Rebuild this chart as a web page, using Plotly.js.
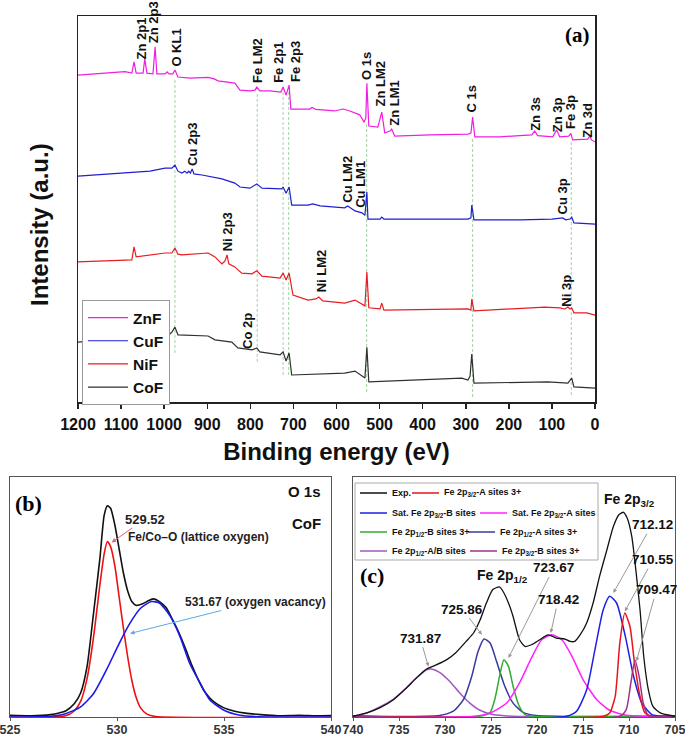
<!DOCTYPE html>
<html>
<head>
<meta charset="utf-8">
<script src="https://cdn.plot.ly/plotly-3.0.1.min.js"></script>
<style>html,body{margin:0;padding:0;background:#fff}#chart{width:685px;height:737px}</style>
</head>
<body>
<div id="chart"></div>
<script>
// ---------- Panel (a): XPS survey spectra ----------
const seriesNames = ['ZnF', 'CuF', 'NiF', 'CoF'];

const znE = [1200,1091,1075,1070,1065,1049,1045,1040,1026,1021,1017,998,993,989,980,975,968,940,898,884,875,836,824,801,789,785,778,755,729,724,717,710,706,685,662,657,648,604,585,569,557,546,536,532,529.5,525,504,495,488,476,472,465,383,295,288,284,279,221,147,140,133,98,89,82,61,56,52,17,12,8,0];
const znI = [84.7,85.6,85.2,88.1,85.2,85.2,88.9,85.2,85.0,92.0,85.0,85.0,85.5,85.0,85.0,86.0,84.2,83.9,84.1,83.7,83.2,82.6,80.8,80.6,80.8,81.6,80.6,80.6,80.3,81.6,79.5,82.1,75.9,75.9,75.9,76.3,75.8,75.4,75.9,75.4,74.9,74.4,72.5,73.6,82.6,71.5,71.2,75.1,69.7,70.2,70.7,68.9,69.2,69.4,69.7,73.8,68.7,68.7,69.2,70.2,69.0,68.7,70.5,68.7,68.9,69.6,67.9,68.1,68.9,67.9,67.4];

const cuE = [1200,1126,1070,1033,998,982,975,968,959,952,947,943,939,935,931,912,866,836,824,801,785,773,727,724,717,710,704,666,655,638,581,574,557,541,534,529.5,527,499,495,490,295,288,286,281,174,100,75,68,58,54,49,0];
const cuI = [58.5,59.1,59.6,59.8,60.6,60.6,61.4,59.8,59.3,59.8,59.3,59.8,59.3,60.4,59.1,58.8,57.8,56.7,55.7,55.4,56.5,55.4,55.2,55.7,54.1,55.7,51.0,51.0,51.3,50.8,50.3,50.8,49.5,49.0,48.4,54.4,47.4,47.4,47.9,47.4,47.4,47.7,51.0,47.2,47.2,47.4,47.7,47.2,47.4,47.9,46.4,46.1];

const niE = [1200,1091,1075,1070,1065,998,982,975,968,959,898,882,871,866,859,854,850,836,820,796,785,773,731,724,717,710,701,666,648,641,632,581,557,539,534,529.5,525,499,495,490,295,288,286,281,117,82,70,63,58,54,49,19,0];
const niI = [36.3,36.8,36.8,40.2,37.6,38.6,38.6,39.9,38.3,38.1,38.6,37.6,36.3,35.8,36.5,38.1,35.8,35.0,33.4,33.2,34.0,32.6,32.1,33.4,31.6,33.4,27.7,26.4,26.7,27.2,26.2,25.6,26.4,25.1,24.9,33.7,24.4,24.1,25.6,23.8,24.1,23.8,26.7,23.6,24.6,24.4,24.1,24.6,24.1,24.4,23.1,23.1,22.5];

const coE = [1200,1079,987,982,975,968,898,882,843,829,796,785,778,731,724,717,710,704,581,557,539,534,529.5,525,309,295,290,286,281,110,63,54,49,0];
const coI = [15.5,16.6,17.6,18.1,19.4,17.4,17.1,16.1,15.5,14.0,13.5,14.0,13.0,12.2,13.0,10.6,12.7,7.0,7.5,8.0,6.5,6.2,14.2,5.2,6.2,5.7,6.7,12.4,4.9,5.2,4.9,6.2,3.9,3.6];

const surveyTicks = [1200,1100,1000,900,800,700,600,500,400,300,200,100,0];

// peak labels (a)
const peakLabels = ['Zn 2p1','Zn 2p3','O KL1','Fe LM2','Fe 2p1','Fe 2p3','O 1s','Zn LM2','Zn LM1','C 1s','Zn 3s','Zn 3p','Fe 3p','Zn 3d','Cu 2p3','Cu LM2','Cu LM1','Cu 3p','Ni 2p3','Ni LM2','Ni 3p','Co 2p'];
const peakLabelE = [1053.8,1026,970.3,784.7,733.6,694,532,497,464.5,286,139.7,86.3,58.5,16.7,933,573.6,543.4,74.7,854.3,636.2,65.4,805.6];
const peakLabelI = [94.2,98.4,91.8,88.6,88.1,88.1,87.0,82.5,77.5,78.6,74.6,74.5,75.1,73.1,66.6,57.8,56.5,53.2,44.2,34.1,28.8,18.4];

// guide lines (a)
const guideE = [975,784,724,711,530,284,55];
const guideTop = [83.9,80.3,81.3,80.3,72.3,68.7,67.4];
const guideBottom = [12.7,10.4,7.0,7.0,2.6,1.3,1.8];

// ---------- Panel (b): O 1s ----------
const oExpE = [525,526.0,526.9,527.3,527.6,528.0,528.3,528.6,528.9,529.2,529.4,529.55,529.7,529.9,530.1,530.3,530.5,530.7,530.9,531.2,531.5,531.7,532.0,532.3,532.6,532.9,533.2,533.5,533.8,534.1,534.5,535.0,535.5,536.0,536.7,537.5,538.5,539.3,540];
const oExpI = [0.7,0.5,1.0,1.7,2.5,5.5,10,21,43,66,84,88,87,80,70,60,52.5,48,46.5,47.2,48.6,49.2,48,45.5,40.5,35,28.5,21.5,15.5,10.5,6.5,3.8,2.4,1.6,1.0,0.5,0.7,0.5,0.6];
const oLatE = [525,527.6,528.0,528.3,528.6,528.9,529.2,529.4,529.55,529.7,529.9,530.1,530.3,530.5,530.7,530.9,531.1,531.4,531.8,540];
const oLatI = [0,0.5,2.5,6.5,16,33,55,68,73.1,71,63,50,37,25,15,8,3.8,1.2,0.2,0];
const oVacE = [525,526.9,527.6,528.3,528.9,529.5,530.1,530.6,531.1,531.6,532.0,532.5,532.95,533.4,533.9,534.35,535.0,535.75,537,540];
const oVacI = [0,0.3,1.4,4.2,9.7,19.5,30.6,39.0,45.3,48.1,47.4,41.8,33.4,22.3,13.9,7.0,2.8,0.7,0,0];
const oTicks = [525,530,535,540];

// ---------- Panel (c): Fe 2p ----------
const feExpE = [740,738.5,737.1,735.6,734.2,733.1,732.0,730.9,729.8,728.8,727.7,726.9,726.2,725.5,724.8,724.1,723.7,723.1,722.6,721.9,721.3,720.6,719.7,718.8,717.9,717.0,716.4,715.9,715.3,714.6,713.9,713.2,712.4,711.7,711.1,710.6,710.2,709.7,709.3,708.8,708.4,707.9,707.4,706.6,705];
const feExpI = [0.3,1.7,3.8,7.2,12.1,16.3,20.0,21.8,23.9,26.9,31.5,35.0,40.3,47.5,53.1,54.2,52.4,47.5,41.9,32.2,29.4,30.1,32.2,34.2,32.9,32.5,31.5,31.5,34.3,39.2,47.5,58.6,69.7,79.4,84.3,85.3,82.9,75.3,62.8,44.7,25.3,11.4,4.4,1.7,0.3];
const fe3A_E = [740,712.8,712.1,711.5,711.0,710.45,709.9,709.4,708.8,708.3,707.5,705];
const fe3A_I = [0.3,0.3,1.7,8.6,30.8,43.3,37.8,22.5,8.6,1.9,0.3,0.3];
const satB_E = [740,716.8,715.7,714.6,713.7,712.8,712.1,711.35,710.4,709.5,708.6,707.5,706.3,705];
const satB_I = [0.3,0.3,2.4,11.4,28.1,44.7,50.3,47.5,33.6,16.9,5.8,1.0,0.3,0.3];
const satA_E = [740,726.9,725.1,723.3,721.9,720.6,719.5,718.4,717.3,716.2,715.0,713.5,712.1,710.3,708.1,705];
const satA_I = [0.3,0.3,1.7,5.8,14.2,24.6,32.2,34.3,32.2,25.3,15.6,7.2,2.8,0.7,0.3,0.3];
const fe1B_E = [740,726.2,725.1,724.6,724.0,723.6,723.1,722.6,722.0,721.3,720.4,705];
const fe1B_I = [0.3,0.3,1.9,7.2,18.3,23.9,21.1,12.8,5.1,1.0,0.3,0.3];
const fe1A_E = [740,730.6,729.1,728.0,727.1,726.4,725.75,725.1,724.4,723.5,722.6,721.5,720.1,705];
const fe1A_I = [0.3,0.6,2.4,7.2,16.9,27.4,32.5,30.8,23.2,12.8,5.8,1.9,0.6,0.3];
const fe1AB_E = [740,738.5,737.1,735.6,734.2,733.1,732.0,731.5,730.6,729.5,728.4,727.3,726.2,724.8,722.6,705];
const fe1AB_I = [0.3,1.7,4.2,7.5,12.1,16.3,19.7,20.0,18.6,14.9,10.0,5.8,2.8,1.0,0.3,0.3];
const fe3B_E = [740,711.0,710.3,709.8,709.35,708.9,708.45,707.9,705];
const fe3B_I = [0.3,0.3,3.1,14.2,23.6,16.9,5.8,0.6,0.3];
const feTicks = [740,735,730,725,720,715,710,705];

const feNames = ['Exp.','Fe 2p<sub>3/2</sub>-A sites 3+','Sat. Fe 2p<sub>3/2</sub>-B sites','Sat. Fe 2p<sub>3/2</sub>-A sites','Fe 2p<sub>1/2</sub>-B sites 3+','Fe 2p<sub>1/2</sub>-A sites 3+','Fe 2p<sub>1/2</sub>-A/B sites','Fe 2p<sub>3/2</sub>-B sites 3+'];
const feColors = ['#111111','#e8141c','#1f1fe6','#ff22ff','#33aa33','#38389c','#a058c4','#a0308c'];

// peak labels (c): label position and the point each arrow marks
const feLabels = ['712.12','710.55','709.47','723.67','718.42','725.86','731.87'];
const feLabelE = [707.5,707.4,707.0,718.2,717.7,728.1,732.7];
const feLabelI = [80.1,65.6,53.1,62.1,48.9,45.0,32.9];
const feArrowHeadE = [711.7,710.45,709.2,723.1,718.5,726.0,731.8];
const feArrowHeadI = [51.7,44,23.2,24.6,35,34.3,21];

// ---------- build ----------
const W = 685, H = 737;
const PX = x => x / W, PY = y => 1 - y / H;
const FONT = 'Liberation Sans, Arial, sans-serif';
const SERIF = 'Liberation Serif, Times New Roman, serif';

const surveyColors = ['#f01ee0','#1f1fd0','#e81c22','#303030'];
const surveyData = [[znE,znI],[cuE,cuI],[niE,niI],[coE,coI]];

const traces = [];
surveyData.forEach((d, i) => {
  traces.push({type:'scatter', mode:'lines', x:d[0], y:d[1], name:seriesNames[i],
    line:{color:surveyColors[i], width:1.2}, xaxis:'x', yaxis:'y', showlegend:true});
});

traces.push({type:'scatter', mode:'lines', x:oExpE, y:oExpI, line:{color:'#111', width:1.6, shape:'spline', smoothing:0.6}, xaxis:'x2', yaxis:'y2', showlegend:false, name:'O 1s exp'});
traces.push({type:'scatter', mode:'lines', x:oLatE, y:oLatI, line:{color:'#ee1111', width:1.6, shape:'spline', smoothing:0.6}, xaxis:'x2', yaxis:'y2', showlegend:false, name:'lattice O'});
traces.push({type:'scatter', mode:'lines', x:oVacE, y:oVacI, line:{color:'#1a1aee', width:1.6, shape:'spline', smoothing:0.6}, xaxis:'x2', yaxis:'y2', showlegend:false, name:'O vacancy'});

const feSeries = [[feExpE,feExpI],[fe3A_E,fe3A_I],[satB_E,satB_I],[satA_E,satA_I],[fe1B_E,fe1B_I],[fe1A_E,fe1A_I],[fe1AB_E,fe1AB_I],[fe3B_E,fe3B_I]];
[6,5,4,3,2,1,7,0].forEach(i => {
  traces.push({type:'scatter', mode:'lines', x:feSeries[i][0], y:feSeries[i][1], name:feNames[i],
    line:{color:feColors[i], width: i===0 ? 1.3 : 1.5, shape:'spline', smoothing:0.6}, xaxis:'x3', yaxis:'y3', showlegend:false});
});

const shapes = [];
guideE.forEach((e, i) => {
  shapes.push({type:'line', xref:'x', yref:'y', x0:e, x1:e, y0:guideBottom[i], y1:guideTop[i],
    line:{color:'#9fd49f', width:1, dash:'3px,2px'}, layer:'below'});
});

const annotations = [];
// y title of panel (a)
annotations.push({xref:'paper', yref:'paper', x:PX(39), y:PY(225), text:'Intensity (a.u.)', textangle:-90, showarrow:false,
  xanchor:'center', yanchor:'middle', font:{family:FONT, size:24, weight:'bold', color:'#111'}});
peakLabels.forEach((t, i) => {
  annotations.push({xref:'x', yref:'y', x:peakLabelE[i], y:peakLabelI[i], text:t, textangle:-90,
    showarrow:false, xanchor:'center', yanchor:'middle', font:{family:FONT, size:13, weight:'bold', color:'#111'}});
});
annotations.push({xref:'paper', yref:'paper', x:PX(577), y:PY(35), text:'(a)', showarrow:false,
  xanchor:'center', yanchor:'middle', font:{family:SERIF, size:21, weight:'bold', color:'#000'}});

// panel b texts
annotations.push({xref:'paper', yref:'paper', x:PX(28), y:PY(503), text:'(b)', showarrow:false, xanchor:'center', yanchor:'middle', font:{family:SERIF, size:22, weight:'bold', color:'#000'}});
annotations.push({xref:'paper', yref:'paper', x:PX(323), y:PY(492), text:'O 1s', showarrow:false, xanchor:'right', yanchor:'middle', font:{family:FONT, size:15, weight:'bold', color:'#111'}});
annotations.push({xref:'paper', yref:'paper', x:PX(323), y:PY(523), text:'CoF', showarrow:false, xanchor:'right', yanchor:'middle', font:{family:FONT, size:15, weight:'bold', color:'#111'}});
annotations.push({xref:'x2', yref:'y2', axref:'x2', ayref:'y2', x:529.75, y:72.7, ax:531.3, ay:82.5, text:'529.52', showarrow:true,
  arrowhead:2, arrowsize:0.9, arrowwidth:1, arrowcolor:'#e0607a', standoff:0, font:{family:FONT, size:13, weight:'bold', color:'#222'}});
annotations.push({xref:'paper', yref:'paper', x:PX(126), y:PY(537), text:'Fe/Co–O (lattice oxygen)', showarrow:false, xanchor:'left', yanchor:'middle', font:{family:FONT, size:12, weight:'bold', color:'#222'}});
annotations.push({xref:'x2', yref:'y2', axref:'x2', ayref:'y2', x:530.61, y:34.8, ax:536.45, ay:47.9, text:'531.67 (oxygen vacancy)', showarrow:true,
  arrowhead:2, arrowsize:0.9, arrowwidth:1, arrowcolor:'#5aaae8', standoff:0, font:{family:FONT, size:12, weight:'bold', color:'#222'}});

// panel c texts
annotations.push({xref:'paper', yref:'paper', x:PX(372), y:PY(575), text:'(c)', showarrow:false, xanchor:'center', yanchor:'middle', font:{family:SERIF, size:22, weight:'bold', color:'#000'}});
annotations.push({xref:'x3', yref:'y3', x:709.9, y:90.6, text:'Fe 2p<sub>3/2</sub>', showarrow:false, xanchor:'center', yanchor:'middle', font:{family:FONT, size:14, weight:'bold', color:'#111'}});
annotations.push({xref:'x3', yref:'y3', x:723.7, y:58.6, text:'Fe 2p<sub>1/2</sub>', showarrow:false, xanchor:'center', yanchor:'middle', font:{family:FONT, size:14, weight:'bold', color:'#111'}});
feLabels.forEach((t, i) => {
  annotations.push({xref:'x3', yref:'y3', axref:'x3', ayref:'y3', x:feArrowHeadE[i], y:feArrowHeadI[i], ax:feLabelE[i], ay:feLabelI[i],
    text:t, showarrow:true, arrowhead:2, arrowsize:0.8, arrowwidth:1, arrowcolor:'#999', standoff:0,
    font:{family:FONT, size:13.5, weight:'bold', color:'#111'}});
});

// two-column legend of panel c
shapes.push({type:'rect', xref:'paper', yref:'paper', x0:PX(355), x1:PX(598), y0:PY(560), y1:PY(483), line:{color:'#aaa', width:1}, fillcolor:'rgba(255,255,255,0)'});
const legRows = [[0,1],[2,3],[4,5],[6,7]];
const legRowY = [493,513,532,551];
const legCol2X = [412,480,468,470];
legRows.forEach((row, r) => {
  const y = PY(legRowY[r]);
  const xs = [360, legCol2X[r]];
  row.forEach((k, c) => {
    shapes.push({type:'line', xref:'paper', yref:'paper', x0:PX(xs[c]), x1:PX(xs[c]+27), y0:y, y1:y, line:{color:feColors[k], width:1.5}});
    annotations.push({xref:'paper', yref:'paper', x:PX(xs[c]+30), y:y, text:feNames[k], showarrow:false, xanchor:'left', yanchor:'middle',
      font:{family:FONT, size:9, weight:'bold', color:'#111'}});
  });
});

const axBase = {showgrid:false, zeroline:false, showline:true, mirror:true, automargin:false};

const layout = {
  width:W, height:H, margin:{l:0,r:0,t:0,b:0}, paper_bgcolor:'#fff', plot_bgcolor:'#fff',
  font:{family:FONT, color:'#111'},
  showlegend:true,
  legend:{x:PX(82), y:PY(300), xanchor:'left', yanchor:'top', bgcolor:'#fff', bordercolor:'#999', borderwidth:1,
    font:{family:FONT, size:15.5, weight:'bold', color:'#111'}, tracegroupgap:0, itemwidth:40},
  xaxis:Object.assign({}, axBase, {domain:[PX(78), PX(595)], anchor:'y', range:[1200,0], tickvals:surveyTicks,
    ticks:'outside', ticklen:5, tickwidth:1.5, tickcolor:'#222', linecolor:'#222', linewidth:1.5,
    tickfont:{family:FONT, size:16, weight:'bold', color:'#111'}, ticklabelstandoff:2, ticklabeloverflow:'allow',
    title:{text:'Binding energy (eV)', font:{family:FONT, size:24, weight:'bold', color:'#111'}, standoff:11}}),
  yaxis:Object.assign({}, axBase, {domain:[PY(402), PY(16)], anchor:'x', range:[0,100], showticklabels:false, ticks:'',
    linecolor:'#222', linewidth:1.5}),
  xaxis2:Object.assign({}, axBase, {domain:[PX(10), PX(331)], anchor:'y2', range:[525,540], tickvals:oTicks,
    ticks:'outside', ticklen:3, tickwidth:1, tickcolor:'#555', linecolor:'#555', linewidth:1,
    tickfont:{family:FONT, size:12.5, weight:'bold', color:'#333'}, ticklabelstandoff:-2, ticklabeloverflow:'allow'}),
  yaxis2:Object.assign({}, axBase, {domain:[PY(717), PY(477)], anchor:'x2', range:[0,100], showticklabels:false, ticks:'',
    linecolor:'#555', linewidth:1}),
  xaxis3:Object.assign({}, axBase, {domain:[PX(353), PX(675)], anchor:'y3', range:[740,705], tickvals:feTicks,
    ticks:'outside', ticklen:3, tickwidth:1, tickcolor:'#555', linecolor:'#555', linewidth:1,
    tickfont:{family:FONT, size:12.5, weight:'bold', color:'#333'}, ticklabelstandoff:-2, ticklabeloverflow:'allow'}),
  yaxis3:Object.assign({}, axBase, {domain:[PY(717), PY(477)], anchor:'x3', range:[0,100], showticklabels:false, ticks:'',
    linecolor:'#555', linewidth:1}),
  shapes:shapes,
  annotations:annotations
};

Plotly.newPlot('chart', traces, layout, {displayModeBar:false, staticPlot:true});
</script>
</body>
</html>
